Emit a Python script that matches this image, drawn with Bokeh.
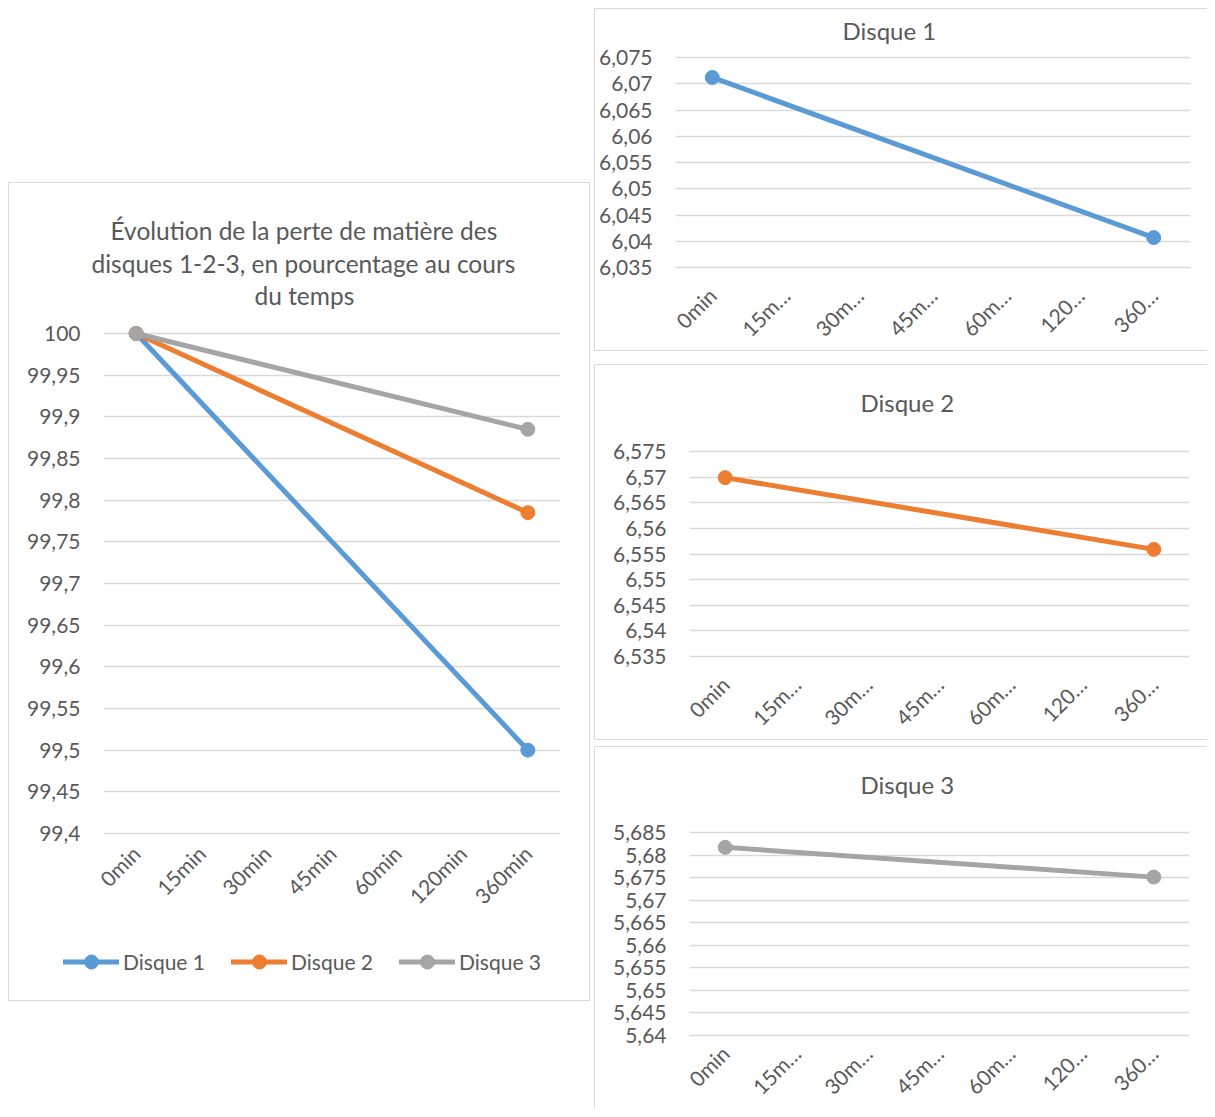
import math
from bokeh.plotting import figure
from bokeh.models import (FactorRange, Range1d, FixedTicker, Title, Legend, LegendItem,
                          Spacer, CustomJSTickFormatter)
from bokeh.layouts import row, column
from bokeh.embed import file_html
from bokeh.resources import INLINE

# ---------------- data ----------------
categories = ["0min", "15min", "30min", "45min", "60min", "120min", "360min"]
short_labels = ["0min", "15m…", "30m…", "45m…", "60m…", "120…", "360…"]
measured_at = ["0min", "360min"]

series_names = ["Disque 1", "Disque 2", "Disque 3"]

disque1_mass = [6.0712, 6.0407]
disque2_mass = [6.5699, 6.5559]
disque3_mass = [5.6817, 5.6751]

disque1_pct = [100.0, 99.50]
disque2_pct = [100.0, 99.785]
disque3_pct = [100.0, 99.885]

pct_ticks = [99.4, 99.45, 99.5, 99.55, 99.6, 99.65, 99.7, 99.75, 99.8, 99.85, 99.9, 99.95, 100.0]
d1_ticks = [6.035, 6.04, 6.045, 6.05, 6.055, 6.06, 6.065, 6.07, 6.075]
d2_ticks = [6.535, 6.54, 6.545, 6.55, 6.555, 6.56, 6.565, 6.57, 6.575]
d3_ticks = [5.64, 5.645, 5.65, 5.655, 5.66, 5.665, 5.67, 5.675, 5.68, 5.685]

main_title = ["Évolution de la perte de matière des",
              "disques 1-2-3, en pourcentage au cours",
              "du temps"]

# ---------------- style ----------------
COLORS = ["#5B9BD5", "#ED7D31", "#A5A5A5"]
TEXT = "#595959"
GRID = "#D9D9D9"
FONT = "Lato"
BORDER = "1px solid #D9D9D9"
LW = 5

fmt = CustomJSTickFormatter(code="""
let s = tick.toFixed(3);
s = s.replace(/0+$/, '').replace(/\\.$/, '');
return s.replace('.', ',');
""")


def make_fig(width, height, mb, ticks, pad_top, pad_bottom, factors, styles, xstand):
    ml, mr, mt, mbot = mb
    frame_h = height - mt - mbot
    ppu = (frame_h - pad_top - pad_bottom) / (ticks[-1] - ticks[0])
    yr = Range1d(ticks[0] - pad_bottom / ppu, ticks[-1] + pad_top / ppu)
    p = figure(width=width, height=height, x_range=FactorRange(*factors), y_range=yr,
               output_backend="svg", toolbar_location=None,
               min_border_left=ml, min_border_right=mr, min_border_top=mt, min_border_bottom=mbot)
    p.styles = styles
    p.outline_line_color = None
    p.background_fill_color = "white"
    p.border_fill_color = "white"
    p.xgrid.grid_line_color = None
    p.ygrid.grid_line_color = GRID
    p.ygrid.grid_line_width = 1.5
    p.ygrid.ticker = FixedTicker(ticks=ticks)
    p.yaxis.ticker = FixedTicker(ticks=ticks)
    p.yaxis.formatter = fmt
    for ax in (p.xaxis[0], p.yaxis[0]):
        ax.axis_label = None
        ax.axis_line_color = None
        ax.major_tick_line_color = None
        ax.minor_tick_line_color = None
        ax.major_tick_out = 0
        ax.major_tick_in = 0
        ax.major_label_text_font = FONT
        ax.major_label_text_font_size = "21px"
        ax.major_label_text_color = TEXT
    p.yaxis.major_label_standoff = 23
    p.xaxis.major_label_orientation = math.pi / 4
    p.xaxis.major_label_standoff = xstand
    return p


def add_series(p, xs, ys, color):
    lr = p.line(xs, ys, line_width=LW, line_color=color, line_cap="round", line_join="round")
    sr = p.scatter(xs, ys, size=14, fill_color=color, line_color=color)
    return [lr, sr]


def add_title(p, text, offset, standoff, size, valign="bottom"):
    p.add_layout(Title(text=text, align="left", offset=offset, standoff=standoff,
                       vertical_align=valign,
                       text_font=FONT, text_font_size=size, text_color=TEXT,
                       text_font_style="normal"), "above")


# ---------------- left chart (percentages) ----------------
pct_series = [disque1_pct, disque2_pct, disque3_pct]
left = make_fig(582, 748, (94, 31, 140, 96), pct_ticks, 10, 2, categories,
                {"border-left": BORDER, "border-right": BORDER, "border-top": BORDER}, 14)
for ys, c in zip(pct_series, COLORS):
    add_series(left, measured_at, ys, c)
# title panels stack outward from the frame: gap, then the three lines bottom-up
add_title(left, " ", 0, 0, "10px")
add_title(left, main_title[2], 151, 0, "24.5px")
add_title(left, main_title[1], -12, 2, "24.5px")
add_title(left, main_title[0], 7, 2, "24.5px")

# legend strip under the left chart (same series; values lie outside its empty view)
leg_fig = figure(width=582, height=71, x_range=FactorRange(*categories), y_range=Range1d(0, 1),
                 output_backend="svg", toolbar_location=None,
                 x_axis_location=None, y_axis_location=None,
                 min_border_left=0, min_border_right=0, min_border_top=0, min_border_bottom=0)
leg_fig.styles = {"border-left": BORDER, "border-right": BORDER, "border-bottom": BORDER}
leg_fig.outline_line_color = None
leg_fig.grid.visible = False
items = []
for name, ys, c in zip(series_names, pct_series, COLORS):
    rs = add_series(leg_fig, measured_at, ys, c)
    items.append(LegendItem(label=name, renderers=rs))
leg = Legend(items=items, location=(54, 22), orientation="horizontal",
             padding=0, margin=0, spacing=26, label_standoff=4,
             glyph_width=56, glyph_height=35,
             border_line_color=None, background_fill_alpha=0,
             label_text_font=FONT, label_text_font_size="21px", label_text_color=TEXT)
leg_fig.add_layout(leg, "center")

# ---------------- right charts (masses) ----------------
short_at = [short_labels[categories.index(c)] for c in measured_at]

c1 = make_fig(613, 343, (80, 18, 42, 83), d1_ticks, 6, 2, short_labels,
              {"border-left": BORDER, "border-top": BORDER, "border-bottom": BORDER}, 22)
add_series(c1, short_at, disque1_mass, COLORS[0])
add_title(c1, series_names[0], 167, 11, "24px", "middle")

c2 = make_fig(613, 376, (94, 19, 74, 83), d2_ticks, 12, 2, short_labels,
              {"border-left": BORDER, "border-top": BORDER, "border-bottom": BORDER}, 22)
add_series(c2, short_at, disque2_mass, COLORS[1])
add_title(c2, series_names[1], 171, 43, "24px", "middle")

c3 = make_fig(613, 363, (94, 19, 74, 72), d3_ticks, 11, 2, short_labels,
              {"border-left": BORDER, "border-top": BORDER}, 12)
add_series(c3, short_at, disque3_mass, COLORS[2])
add_title(c3, series_names[2], 171, 43, "24px", "middle")

layout = column(
    Spacer(width=10, height=8),
    row(
        Spacer(width=8, height=10),
        column(Spacer(width=582, height=174), row(left), row(leg_fig)),
        Spacer(width=4, height=10),
        column(row(c1), Spacer(width=10, height=13), row(c2), Spacer(width=10, height=6), row(c3)),
    ),
)

open("out.html", "w").write(file_html(layout, INLINE))
